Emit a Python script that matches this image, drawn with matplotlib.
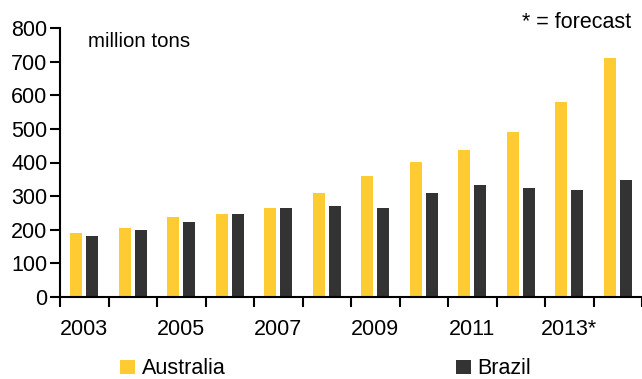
import matplotlib
matplotlib.use("Agg")
import matplotlib.pyplot as plt
import numpy as np

plt.rcParams["font.family"] = ["Liberation Sans", "DejaVu Sans"]

_AUS_YELLOW = "#ffcb33"
_BRA_GREY = "#333333"

years = ["2003", "2004", "2005", "2006", "2007", "2008",
         "2009", "2010", "2011", "2012", "2013*", "2014*"]
australia = [190, 205, 238, 247, 265, 309, 360, 401, 437, 491, 580, 711]
brazil = [181, 199, 223, 247, 265, 271, 265, 309, 333, 324, 318, 348]

fig = plt.figure(figsize=(6.42, 3.79), dpi=100)
ax = fig.add_axes([60 / 642, 82 / 379, 1 - 60 / 642, 269 / 379])

x = np.arange(len(years))
width = 0.25
ax.bar(x - 0.165, australia, width, color=_AUS_YELLOW, label="Australia")
ax.bar(x + 0.165, brazil, width, color=_BRA_GREY, label="Brazil")

ax.set_xlim(-0.5, len(years) - 0.5)
ax.set_ylim(0, 800)
ax.set_yticks(range(0, 801, 100))

# ticks sit between categories, labels on every other year
ax.set_xticks(np.arange(len(years) + 1) - 0.5)
ax.set_xticklabels([])
ax.set_xticks(x[::2], labels=years[::2], minor=True)
ax.tick_params(axis="x", which="minor", length=0, pad=16, labelsize=15.5)
ax.tick_params(axis="x", which="major", length=7, width=1.5, direction="out")
ax.tick_params(axis="y", length=7, width=1.5, labelsize=15.5, pad=2)

for side in ("top", "right"):
    ax.spines[side].set_visible(False)
for side in ("left", "bottom"):
    ax.spines[side].set_linewidth(1.5)

ax.text(28 / 582, 0.95, "million tons", transform=ax.transAxes,
        fontsize=14.8, va="center", ha="left")
fig.text(631 / 642, 1 - 23 / 379, "* = forecast", fontsize=15.5,
         va="center", ha="right")

leg_style = dict(loc="center left", frameon=False, fontsize=15.5,
                 handlelength=0.7, handleheight=0.66, handletextpad=0.3,
                 borderpad=0, borderaxespad=0)
handles, labels = ax.get_legend_handles_labels()
fig.legend(handles[:1], labels[:1],
           bbox_to_anchor=(120 / 642, 1 - 369 / 379), **leg_style)
fig.legend(handles[1:], labels[1:],
           bbox_to_anchor=(456 / 642, 1 - 369 / 379), **leg_style)

fig.savefig("out.png", dpi=100, facecolor="white")
plt.close(fig)
